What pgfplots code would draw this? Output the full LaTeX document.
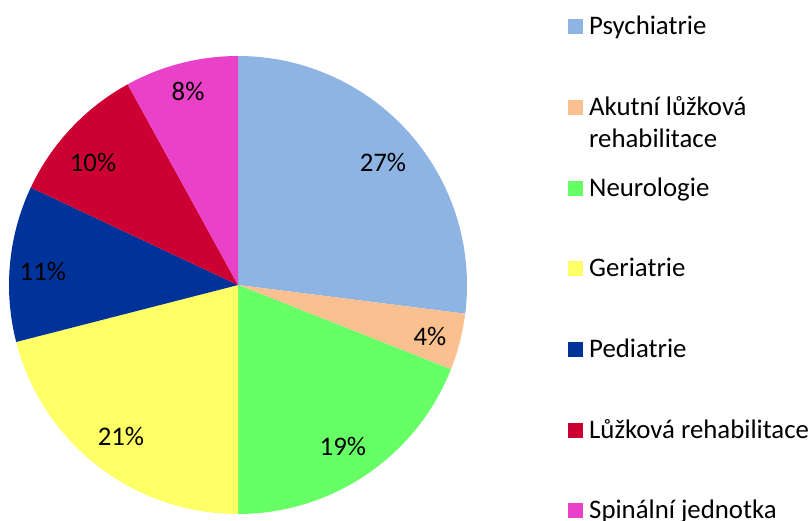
\documentclass[border=0pt]{standalone}
\usepackage{pgfplots}
\pgfplotsset{compat=1.18}
\usepackage{fontspec}
\setmainfont{Carlito}

\definecolor{cPsy}{HTML}{8EB4E3}
\definecolor{cAku}{HTML}{FAC090}
\definecolor{cNeu}{HTML}{66FF66}
\definecolor{cGer}{HTML}{FFFF66}
\definecolor{cPed}{HTML}{003399}
\definecolor{cLuz}{HTML}{CC0033}
\definecolor{cSpi}{HTML}{E941C7}

% slice from cumulative percent #1 to #2
\newcommand{\slice}[3]{%
  \fill[#3] (axis cs:0,0) -- +({90-3.6*#1}:229pt)
    arc[start angle={90-3.6*#1}, end angle={90-3.6*#2}, radius=229pt] -- cycle;}

\begin{document}
\begin{tikzpicture}[font=\fontsize{26.8}{32}\selectfont]
\useasboundingbox (0,0) rectangle (810pt,-520pt);
\begin{axis}[
    at={(238pt,-285pt)}, anchor=center,
    x=229pt, y=229pt,
    xmin=-1, xmax=1, ymin=-1, ymax=1,
    hide axis, clip=false,
  ]
  % values: 27, 4, 19, 21, 11, 10, 8 (cumulative)
  \slice{0}{27}{cPsy}
  \slice{27}{31}{cAku}
  \slice{31}{50}{cNeu}
  \slice{50}{71}{cGer}
  \slice{71}{82}{cPed}
  \slice{82}{92}{cLuz}
  \slice{92}{100}{cSpi}
  \node at (axis cs:0.633,0.537) {27\%};
  \node at (axis cs:0.838,-0.223) {4\%};
  \node at (axis cs:0.458,-0.703) {19\%};
  \node at (axis cs:-0.511,-0.660) {21\%};
  \node at (axis cs:-0.852,0.057) {11\%};
  \node at (axis cs:-0.633,0.537) {10\%};
  \node at (axis cs:-0.218,0.847) {8\%};
\end{axis}
% legend
\fill[cPsy] (568pt,-18.5pt) rectangle (583pt,-33.5pt);
\node[anchor=base west, inner sep=0pt] at (589pt,-34pt) {Psychiatrie};
\fill[cAku] (568pt,-99.5pt) rectangle (583pt,-114.5pt);
\node[anchor=base west, inner sep=0pt] at (589pt,-115pt) {Akutní lůžková};
\node[anchor=base west, inner sep=0pt] at (589pt,-147pt) {rehabilitace};
\fill[cNeu] (568pt,-180.5pt) rectangle (583pt,-195.5pt);
\node[anchor=base west, inner sep=0pt] at (589pt,-196pt) {Neurologie};
\fill[cGer] (568pt,-260.5pt) rectangle (583pt,-275.5pt);
\node[anchor=base west, inner sep=0pt] at (589pt,-276pt) {Geriatrie};
\fill[cPed] (568pt,-341.5pt) rectangle (583pt,-356.5pt);
\node[anchor=base west, inner sep=0pt] at (589pt,-357pt) {Pediatrie};
\fill[cLuz] (568pt,-422.5pt) rectangle (583pt,-437.5pt);
\node[anchor=base west, inner sep=0pt] at (589pt,-438pt) {Lůžková rehabilitace};
\fill[cSpi] (568pt,-502.5pt) rectangle (583pt,-517.5pt);
\node[anchor=base west, inner sep=0pt] at (589pt,-518pt) {Spinální jednotka};
\end{tikzpicture}
\end{document}
